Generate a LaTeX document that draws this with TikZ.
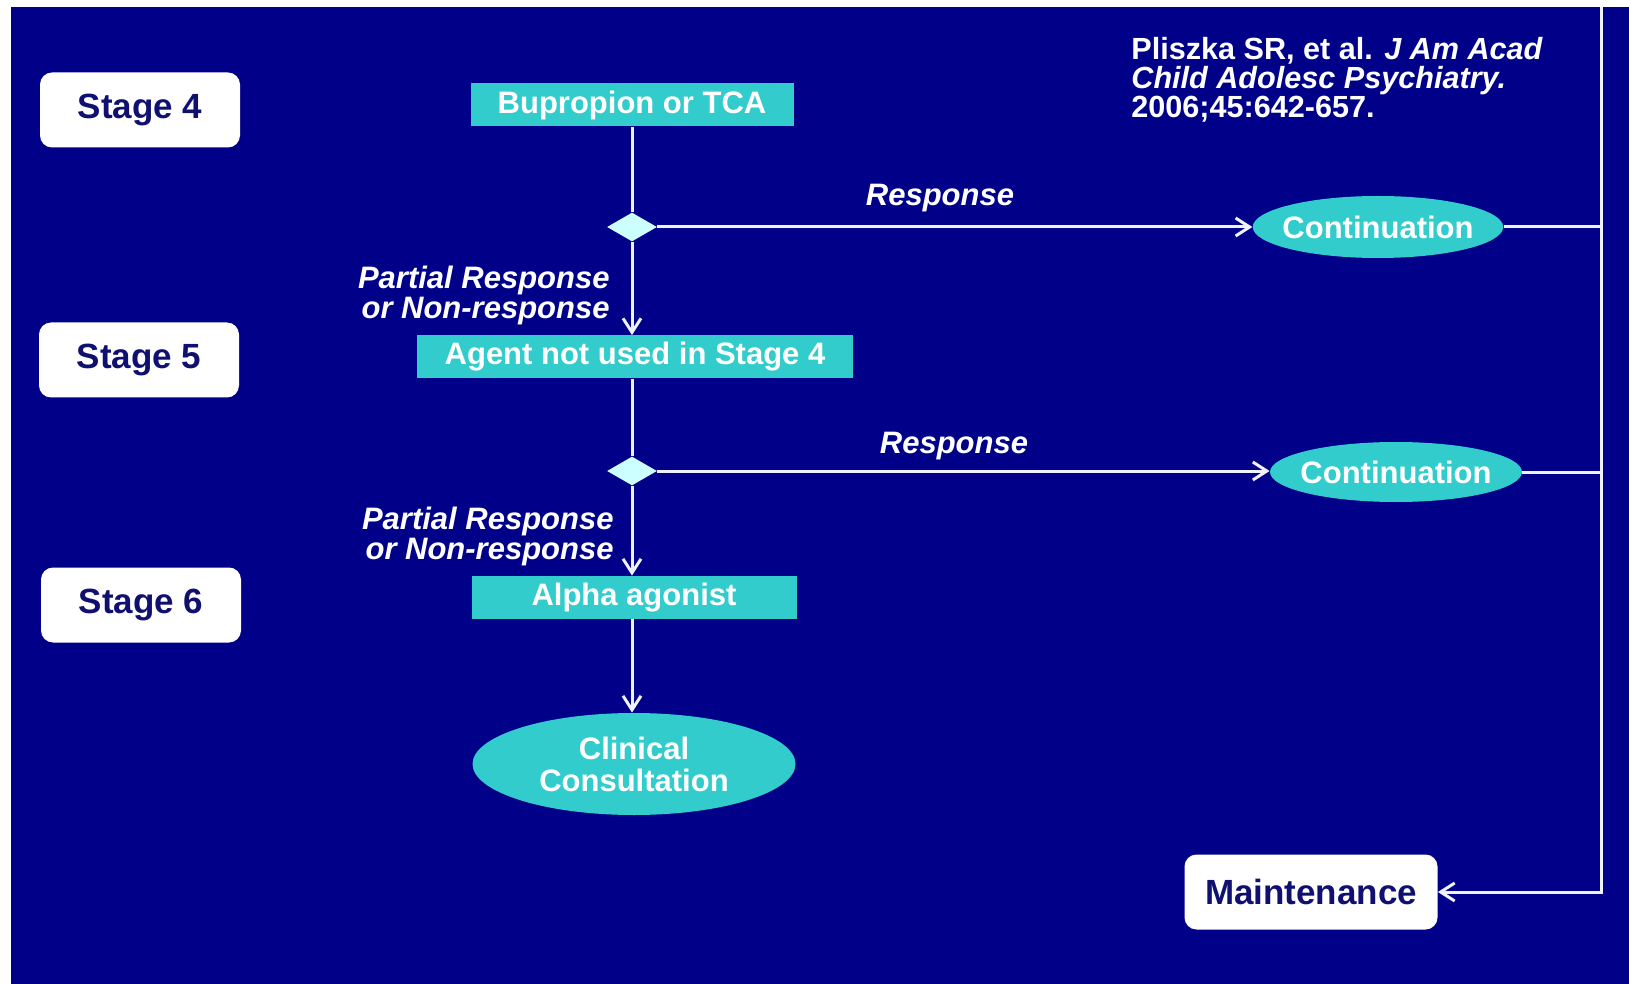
\documentclass[tikz,border=0pt]{standalone}
\usepackage{fontspec}
\setmainfont{Liberation Sans}
\usetikzlibrary{shapes.geometric,arrows.meta}
\definecolor{bgblue}{RGB}{0,0,136}
\definecolor{tealc}{RGB}{51,204,204}
\definecolor{palec}{RGB}{204,255,255}
\definecolor{navytext}{RGB}{16,16,112}
\definecolor{linec}{RGB}{240,240,255}
\begin{document}
\begin{tikzpicture}[x=0.5pt,y=-0.5pt,
  stagebox/.style={fill=white, rounded corners=6pt, minimum width=100pt, minimum height=37.5pt,
    inner sep=0pt, text=navytext, font=\fontsize{17.5}{20}\selectfont\bfseries},
  tealbox/.style={fill=tealc, minimum height=21.5pt, inner sep=0pt, text=white,
    font=\fontsize{15.5}{18}\selectfont\bfseries},
  tealell/.style={ellipse, fill=tealc, inner sep=-3.5pt, text=white, align=center,
    font=\fontsize{15.5}{16}\selectfont\bfseries},
  decision/.style={diamond, fill=palec, minimum width=25pt, minimum height=14.5pt, inner sep=0pt},
  lbl/.style={text=white, inner sep=0pt, font=\fontsize{15.5}{15}\selectfont\bfseries\itshape},
  conn/.style={draw=linec, line width=1.5pt},
  arr/.style={conn, -{Straight Barb[length=7pt,width=9pt,line width=1.5pt]}}
]
\useasboundingbox (0,0) rectangle (1629,984);
\fill[white] (0,0) rectangle (1629,984);
\fill[bgblue] (11,7) rectangle (1629,984);

% stage labels
\node[stagebox] (s4) at (140,110) {Stage 4};
\node[stagebox] (s5) at (139,360) {Stage 5};
\node[stagebox] (s6) at (141,605) {Stage 6};

% main column
\node[tealbox, minimum width=161.5pt] (bup) at (632,105) {Bupropion or TCA};
\node[decision] (d1) at (632,227) {};
\node[tealbox, minimum width=218pt] (agent) at (635,357) {Agent not used in Stage 4};
\node[decision] (d2) at (632,471) {};
\node[tealbox, minimum width=162.5pt] (alpha) at (634,597.5) {Alpha agonist};
\node[tealell, minimum width=161.5pt, minimum height=51pt] (clin) at (634,764) {Clinical\\Consultation};

% continuations
\node[tealell, minimum width=125pt, minimum height=31pt] (c1) at (1378,227) {Continuation};
\node[tealell, minimum width=126pt, minimum height=30pt] (c2) at (1396,472) {Continuation};

% maintenance
\node[stagebox, minimum width=126.5pt] (maint) at (1311,892) {Maintenance};

% reference
\node[anchor=north west, text=white, inner sep=0pt, align=left,
  font=\fontsize{15.3}{14.5}\selectfont\bfseries] (ref) at (1131,37)
  {Pliszka SR, et al. \textit{J Am Acad}\\\textit{Child Adolesc Psychiatry.}\\2006;45:642-657.};

% labels
\node[lbl] (r1) at (940,198) {Response};
\node[lbl] (r2) at (954,446) {Response};
\node[lbl, align=right, anchor=east] (p1) at (610,295) {Partial Response\\or Non-response};
\node[lbl, align=right, anchor=east] (p2) at (614,536) {Partial Response\\or Non-response};

% coordinates for the bus line
\coordinate (top) at (1601,7);
\coordinate (bot) at (1601,892);

% connectors
\draw[conn] (bup.south -| d1) -- (d1.north);
\draw[arr] (d1.east) -- (d1.east -| c1.west);
\draw[arr] (d1.south) -- (d1.south |- agent.north);
\draw[conn] (agent.south -| d2) -- (d2.north);
\draw[arr] (d2.east) -- (d2.east -| c2.west);
\draw[arr] (d2.south) -- (d2.south |- alpha.north);
\draw[arr] (alpha.south -| d2) -- (d2.south |- clin.north);
\draw[conn] (c1.east) -- (c1.east -| top);
\draw[conn] (c2.east) -- (c2.east -| top);
\draw[arr] (top) -- (bot) -- (maint.east);
\end{tikzpicture}
\end{document}
